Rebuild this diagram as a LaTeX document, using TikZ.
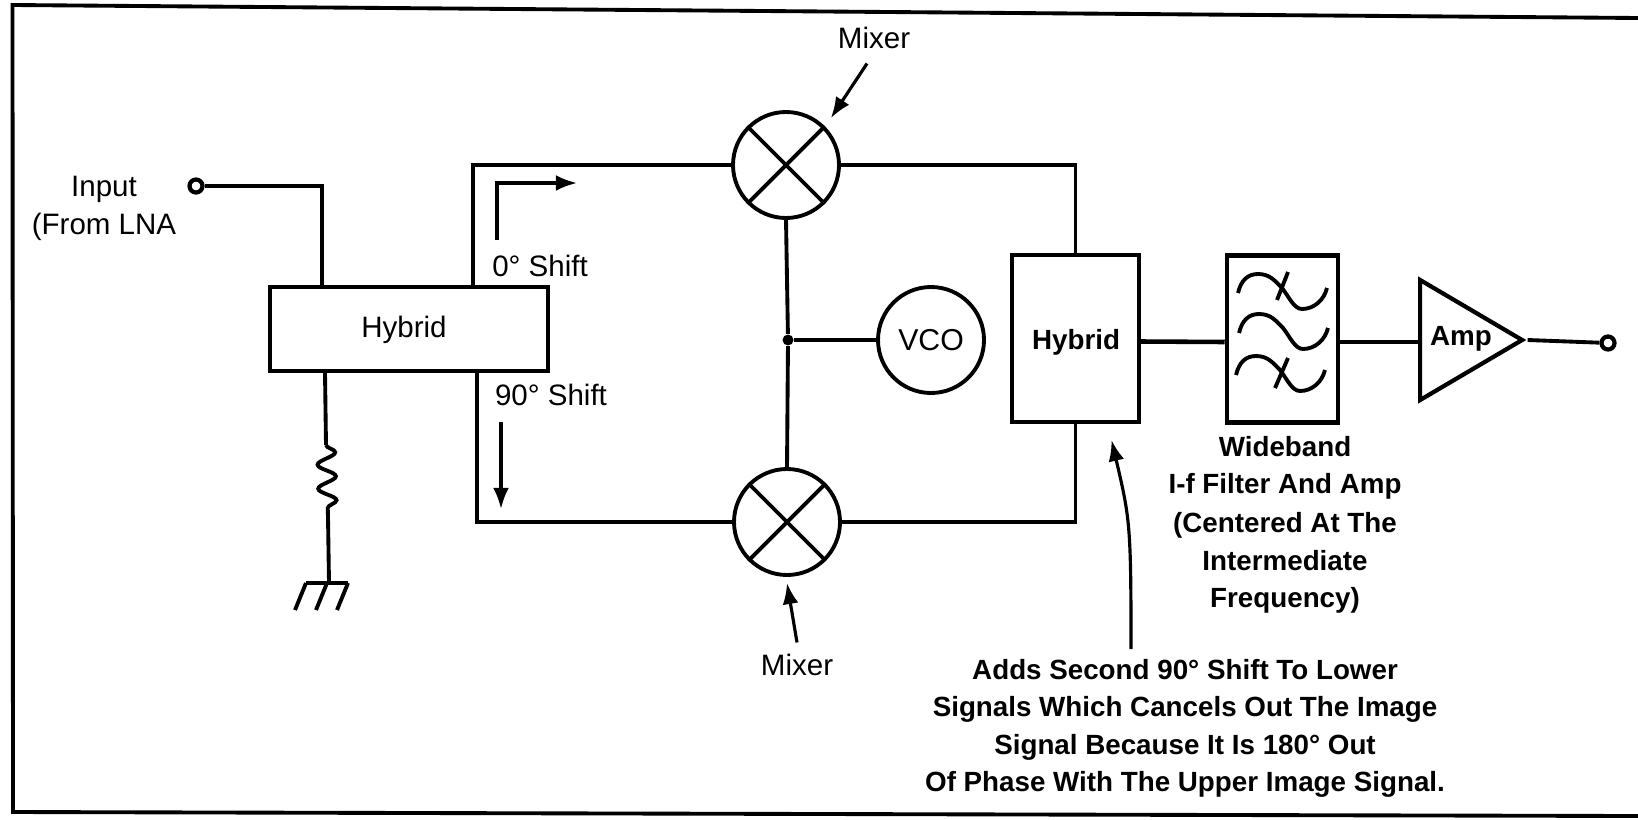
\documentclass[tikz,border=0pt]{standalone}
\usepackage{fontspec}
\setmainfont{Liberation Sans}
\usetikzlibrary{arrows.meta,positioning,calc,shapes.geometric,decorations.pathmorphing}
\tikzset{
  wire/.style={line width=1.1pt},
  pointer/.style={line width=0.9pt,-{Latex[length=6pt,width=4.5pt]}},
  blockbox/.style={draw,line width=1.1pt,inner sep=0pt},
  roundbox/.style={draw,circle,line width=1.1pt,inner sep=0pt,minimum size=1.06cm},
  termdot/.style={draw,circle,line width=1.2pt,inner sep=0pt,minimum size=0.13cm},
  lbl/.style={font=\fontsize{8.4}{10}\selectfont,inner sep=0pt},
  lblb/.style={font=\fontsize{7.9}{9}\selectfont\bfseries,inner sep=0pt},
}
\begin{document}
\begin{tikzpicture}[every node/.style={align=center}]
  \useasboundingbox (0,0) rectangle (16.38,8.19);
  % frame, open on the right
  \draw[line width=1.1pt] (16.38,8.01) -- (0.125,8.14) -- (0.13,0.07) -- (16.38,0.03);
  % blocks
  \node[blockbox,minimum width=2.78cm,minimum height=0.84cm] (hyba) at (4.09,4.90) {};
  \node[lbl] (hybatxt) at (4.04,4.89) {Hybrid};
  \node[roundbox] (mixt) at (7.86,6.54) {};
  \node[roundbox] (mixb) at (7.87,2.97) {};
  \node[roundbox] (vco) at (9.31,4.79) {\fontsize{8.6}{10}\selectfont VCO};
  \node[blockbox,minimum width=1.27cm,minimum height=1.67cm] (hybb) at (10.755,4.805) {};
  \node[lblb] (hybbtxt) at (10.76,4.77) {Hybrid};
  \node[blockbox,line width=1.3pt,minimum width=1.11cm,minimum height=1.67cm] (filt) at (12.825,4.80) {};
  \node[draw,isosceles triangle,isosceles triangle stretches,line width=1.2pt,inner sep=0pt,
    minimum width=1.2cm,minimum height=1.02cm,anchor=lower side] (amp) at (14.18,4.79) {};
  \node[lblb] (amptxt) at (14.61,4.80) {Amp};
  \node[termdot] (termin) at (1.96,6.33) {};
  \node[termdot] (termout) at (16.08,4.76) {};
  \node[circle,fill,inner sep=0pt,minimum size=0.11cm] (jct) at (7.88,4.79) {};
  % mixer crosses
  \foreach \mx in {mixt,mixb}{
    \draw[wire] (\mx.45) -- (\mx.225);
    \draw[wire] (\mx.135) -- (\mx.315);
  }
  % wires
  \draw[wire] (termin) -| ([xshift=-0.87cm]hyba.north);
  \draw[wire] ([xshift=0.64cm]hyba.north) |- (mixt.west);
  \draw[wire] ([xshift=0.68cm]hyba.south) |- (mixb.west);
  \draw[wire] (mixt.east) -| (hybb.north);
  \draw[wire] (mixb.east) -| (hybb.south);
  \draw[wire] (mixt.south) -- (jct);
  \draw[wire] (jct) -- (mixb.north);
  \draw[wire] (jct) -- (vco.west);
  \draw[wire,line width=1.3pt] ([yshift=-0.03cm]hybb.east) -- ([yshift=-0.03cm]filt.west);
  \draw[wire,line width=1.3pt] ([yshift=-0.03cm]filt.east) -- ([yshift=-0.03cm]filt.east -| amp.lower side);
  \draw[wire] (amp.apex) -- (termout);
  % resistor and ground
  \coordinate (resa) at (3.26,3.74);
  \coordinate (resb) at (3.28,3.02);
  \coordinate (gnd) at (3.29,2.36);
  \draw[wire] ([xshift=-0.84cm]hyba.south) -- (resa);
  \draw[wire,decorate,decoration={snake,segment length=0.24cm,amplitude=0.09cm}] (resa) -- (resb);
  \draw[wire] (resb) -- (gnd);
  \draw[wire] (3.06,2.36) -- (3.48,2.36);
  \foreach \gx in {3.06,3.27,3.48}
    \draw[wire] (\gx,2.36) -- ++(-0.11,-0.27);
  % filter curves
  \foreach \fx/\fy in {12.38/5.26,12.39/4.86,12.36/4.44}
    \draw[wire,shift={(\fx,\fy)}] (0,0) .. controls (0.03,0.13) and (0.10,0.19) .. (0.20,0.19)
      .. controls (0.32,0.19) and (0.37,0.12) .. (0.44,0.05)
      .. controls (0.51,-0.04) and (0.56,-0.16) .. (0.64,-0.16)
      .. controls (0.76,-0.16) and (0.86,-0.07) .. (0.89,0.05);
  \draw[wire] (12.88,5.47) -- (12.77,5.19);
  \draw[wire] (12.88,4.61) -- (12.75,4.31);
  % pointers and labels
  \draw[pointer] (4.97,5.79) |- (5.77,6.36);
  \draw[pointer] (5.01,3.97) -- (5.01,3.10);
  \node[lbl] (inlbl) at (1.04,6.30) {Input};
  \node[lbl] (inlblb) at (1.04,5.92) {(From LNA};
  \node[lbl] (zero) at (5.40,5.53) {0° Shift};
  \node[lbl] (ninety) at (5.51,4.24) {90° Shift};
  \node[lbl] (mixtlbl) at (8.74,7.81) {Mixer};
  \node[lbl] (mixblbl) at (7.97,1.54) {Mixer};
  \draw[pointer] (mixtlbl.south) ++(-0.07,-0.14) -- ([xshift=0.06cm,yshift=0.08cm]mixt.45);
  \draw[pointer] (mixblbl.north) ++(0,0.11) -- ([yshift=-0.06cm]mixb.south);
  \node[lblb] (ftxt) at (12.85,3.72) {Wideband};
  \node[lblb] (ftxtb) at (12.85,3.33) {I-f Filter And Amp};
  \node[lblb] (ftxtc) at (12.85,2.94) {(Centered At The};
  \node[lblb] (ftxtd) at (12.85,2.58) {Intermediate};
  \node[lblb] (ftxte) at (12.85,2.19) {Frequency)};
  \node[lblb] (note) at (11.85,1.49) {Adds Second 90° Shift To Lower};
  \node[lblb] (noteb) at (11.85,1.10) {Signals Which Cancels Out The Image};
  \node[lblb] (notec) at (11.85,0.72) {Signal Because It Is 180° Out};
  \node[lblb] (noted) at (11.85,0.35) {Of Phase With The Upper Image Signal.};
  \draw[pointer] ([xshift=-0.54cm,yshift=0.10cm]note.north) .. controls +(0,1.25) and (11.30,3.0) .. ([xshift=0.36cm,yshift=-0.16cm]hybb.south);
\end{tikzpicture}
\end{document}
